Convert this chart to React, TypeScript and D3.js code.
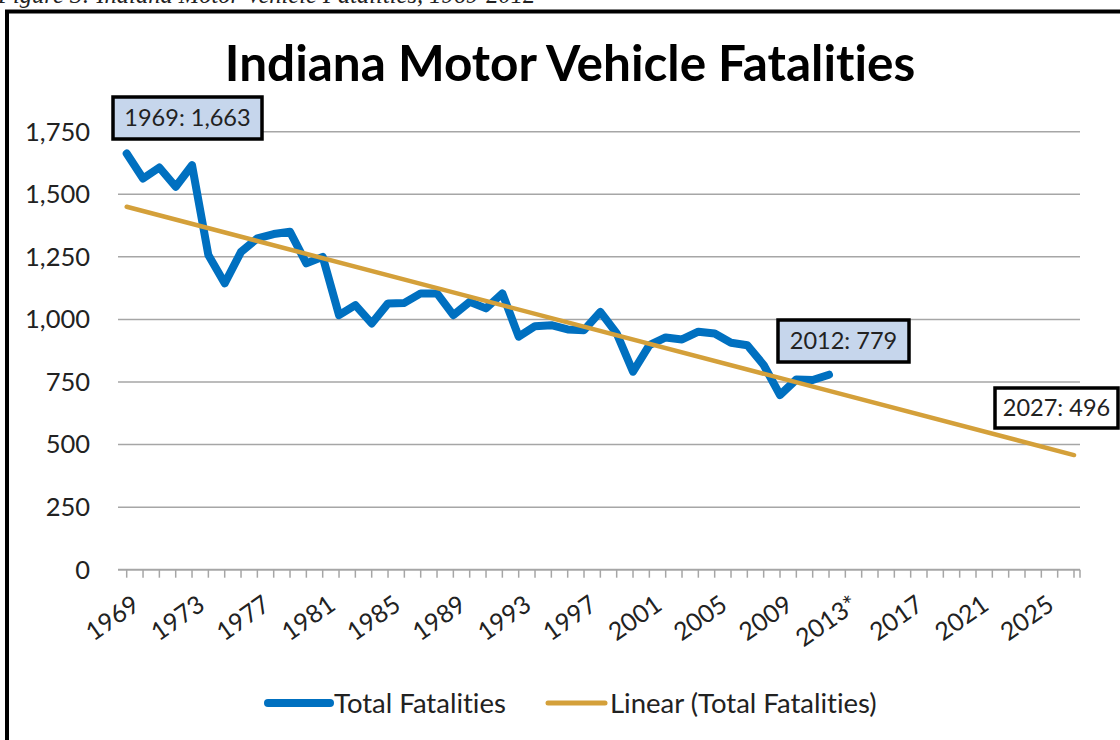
import React from "react";
import * as d3 from "d3";

const categoryYears: number[] = d3.range(1969, 2028);
const dataYears: number[] = d3.range(1969, 2013);
const fatalities: number[] = [
  1663, 1563, 1607, 1530, 1616, 1257, 1144, 1270, 1324, 1341, 1350, 1224, 1250, 1017, 1057, 984, 1064,
  1066, 1104, 1104, 1017, 1070, 1044, 1104, 931, 973, 977, 960, 957, 1030, 944, 791, 897, 928, 920,
  951, 944, 907, 897, 818, 698, 760, 758, 779,
];
const trendYears: number[] = [1969, 2027];
const trendValues: number[] = [1450, 458];
const xTickYears: number[] = [1969, 1973, 1977, 1981, 1985, 1989, 1993, 1997, 2001, 2005, 2009, 2013, 2017, 2021, 2025];
const xTickLabels: string[] = ["1969", "1973", "1977", "1981", "1985", "1989", "1993", "1997", "2001", "2005", "2009", "2013*", "2017", "2021", "2025"];
const yTicks: number[] = [0, 250, 500, 750, 1000, 1250, 1500, 1750];
const annotations = [
  { year: 1969, text: "1969: 1,663", fill: "#c6d6ec" },
  { year: 2012, text: "2012: 779", fill: "#c6d6ec" },
  { year: 2027, text: "2027: 496", fill: "#ffffff" },
];
const legendItems = [
  { label: "Total Fatalities", color: "#0070c0", width: 8 },
  { label: "Linear (Total Fatalities)", color: "#d4a03a", width: 5 },
];

const FONT = "Lato, 'Noto Sans', sans-serif";
const noLig: React.CSSProperties = { fontVariantLigatures: "none", fontFeatureSettings: "'liga' 0, 'clig' 0" } as any;

export default function App() {
  const W = 1120, H = 740;
  const plotLeft = 118, plotRight = 1080;
  const x = d3.scalePoint<number>().domain(categoryYears).range([126.7, 1074]);
  const y = d3.scaleLinear().domain([0, 1750]).range([569.7, 131.7]);
  const fmt = d3.format(",");

  const line = d3.line<number>().x((_, i) => x(dataYears[i])!).y((d) => y(d));
  const trendLine = d3.line<number>().x((_, i) => x(trendYears[i])!).y((d) => y(d));

  const boxPos: Record<number, { x: number; y: number; w: number; h: number }> = {
    1969: { x: 113, y: 97, w: 149, h: 42 },
    2012: { x: 778, y: 320, w: 131, h: 42 },
    2027: { x: 995, y: 388, w: 123, h: 40 },
  };

  const legendX = [268, 548];

  return (
    <svg width={W} height={H} style={{ position: "absolute", left: 0, top: 0, background: "#fff", ...noLig }}>
      <rect x={0} y={0} width={W} height={H} fill="#fff" />
      <text x={-2} y={3} fontFamily="'Liberation Serif', 'DejaVu Serif', serif" fontStyle="italic" fontSize={24.5} fill="#222">
        Figure 3: Indiana Motor Vehicle Fatalities, 1969-2012
      </text>
      <rect x={7} y={11.5} width={W + 20} height={H + 20} fill="none" stroke="#000" strokeWidth={4} />
      <text x={570} y={81} textAnchor="middle" fontFamily={FONT} fontWeight={700} fontSize={49.5} fill="#000" style={noLig}>
        Indiana Motor Vehicle Fatalities
      </text>
      {/* gridlines */}
      {yTicks.filter((t) => t > 0).map((t) => (
        <line key={t} x1={plotLeft} x2={plotRight} y1={y(t)} y2={y(t)} stroke="#a6a6a6" strokeWidth={1.5} />
      ))}
      {/* y labels */}
      {yTicks.map((t) => (
        <text key={t} x={90} y={y(t)} dy="0.35em" textAnchor="end" fontFamily={FONT} fontSize={25.5} fill="#222">
          {fmt(t)}
        </text>
      ))}
      {/* x axis */}
      <line x1={plotLeft} x2={plotRight} y1={y(0)} y2={y(0)} stroke="#a6a6a6" strokeWidth={2} />
      {categoryYears.map((yr) => (
        <line key={yr} x1={x(yr)} x2={x(yr)} y1={y(0)} y2={y(0) + 8} stroke="#a6a6a6" strokeWidth={1.5} />
      ))}
      <line x1={plotRight} x2={plotRight} y1={y(0)} y2={y(0) + 8} stroke="#a6a6a6" strokeWidth={1.5} />
      {xTickYears.map((yr, i) => (
        <text
          key={yr}
          transform={`translate(${x(yr)! + 4},${y(0) + 24}) rotate(-35)`}
          textAnchor="end"
          dy="0.72em"
          fontFamily={FONT}
          fontSize={25}
          fill="#222"
        >
          {xTickLabels[i]}
        </text>
      ))}
      {/* series */}
      <path d={line(fatalities)!} fill="none" stroke="#0070c0" strokeWidth={8} strokeLinejoin="round" strokeLinecap="round" />
      <path d={trendLine(trendValues)!} fill="none" stroke="#d4a03a" strokeWidth={4.5} strokeLinecap="round" />
      {/* annotations */}
      {annotations.map((a) => {
        const b = boxPos[a.year];
        return (
          <g key={a.year}>
            <rect x={b.x} y={b.y} width={b.w} height={b.h} fill={a.fill} stroke="#000" strokeWidth={3.5} />
            <text x={b.x + b.w / 2} y={b.y + b.h / 2} dy="0.36em" textAnchor="middle" fontFamily={FONT} fontSize={23.5} fill="#222">
              {a.text}
            </text>
          </g>
        );
      })}
      {/* legend */}
      {legendItems.map((l, i) => (
        <g key={l.label}>
          <line x1={legendX[i]} x2={legendX[i] + (i === 0 ? 62 : 57)} y1={703} y2={703} stroke={l.color} strokeWidth={l.width} strokeLinecap="round" />
          <text x={legendX[i] + (i === 0 ? 66 : 62)} y={703} dy="0.36em" fontFamily={FONT} fontSize={27.5} fill="#222" style={noLig}>
            {l.label}
          </text>
        </g>
      ))}
    </svg>
  );
}
